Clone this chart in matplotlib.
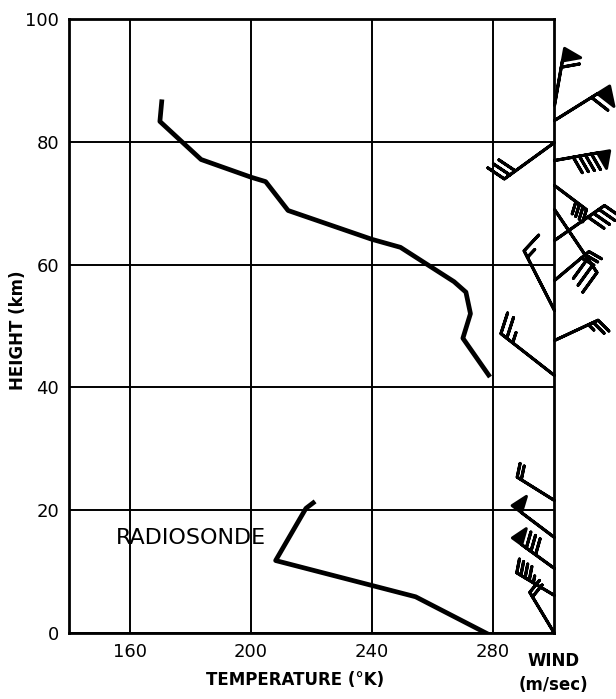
import numpy as np
import matplotlib
matplotlib.use("Agg")
import matplotlib.pyplot as plt

# rocket temperature profile, upper atmosphere
rocket_temp = [170.6, 170.0, 183.6, 200.2, 204.9, 212.3, 240.0, 249.4,
               267.1, 271.0, 272.5, 270.0, 278.5]
rocket_height = [86.5, 83.3, 77.1, 74.2, 73.5, 68.8, 64.1, 62.8,
                 57.2, 55.5, 52.0, 48.0, 42.0]

# radiosonde profile
sonde_temp = [220.6, 218.2, 208.2, 254.4, 277.6]
sonde_height = [21.2, 20.3, 11.8, 5.9, 0.0]

# winds: height (km), staff direction (deg ccw from east), speed (m/sec)
wind_height = [86, 83.5, 80, 77, 73, 69, 64, 57.5, 52.6, 47.7, 42,
               21.7, 15.6, 10.6, 6.2, 0]
wind_dir = [80, 32, 216, 10, -37, -56, 35, 40, 117, 25, 142,
            148, 143, 144, 149, 121]
wind_speed = [60, 60, 30, 90, 40, 30, 40, 30, 15, 25, 25,
              20, 50, 80, 45, 20]

temp_ticks = [160, 200, 240, 280]
height_ticks = [0, 20, 40, 60, 80, 100]

# staff length of each barb in pixels
barb_px = [58, 65, 62, 56, 40, 76, 61, 45, 67, 48, 68, 44, 53, 52, 44, 48]

DPI = 100
fig = plt.figure(figsize=(6.16, 6.99), dpi=DPI)
ax = fig.add_axes([0.112, 0.0944, 0.787, 0.8786])

ax.set_xlim(140, 300)
ax.set_ylim(0, 100)
ax.set_xticks(temp_ticks)
ax.set_yticks(height_ticks)
ax.tick_params(length=0, labelsize=13, pad=7)
ax.grid(True, color='k', lw=1.4)
ax.set_axisbelow(True)
for sp in ax.spines.values():
    sp.set_linewidth(2.0)

ax.plot(rocket_temp, rocket_height, color='k', lw=3.4, solid_joinstyle='round')
ax.plot(sonde_temp, sonde_height, color='k', lw=3.4, solid_joinstyle='round')
ax.text(180.2, 15.5, "RADIOSONDE", fontsize=16, ha='center', va='center')

# wind barbs hung off the right-hand edge
for h, d, s, px in zip(wind_height, wind_dir, wind_speed, barb_px):
    rad = np.deg2rad(d)
    u = -s * np.cos(rad)
    v = -s * np.sin(rad)
    ax.barbs([300], [h], [u], [v], length=np.sqrt(1.44 * px),
             sizes=dict(spacing=0.11, height=0.3, width=0.22),
             color='k', lw=2.2, clip_on=False, zorder=5)

ax.set_xlabel("TEMPERATURE (°K)", fontsize=12, fontweight='bold')
ax.xaxis.set_label_coords(0.466, -0.062)
ax.set_ylabel("HEIGHT (km)", fontsize=12, fontweight='bold')
ax.yaxis.set_label_coords(-0.086, 0.493)

ax.text(300, -4.5, "WIND", fontsize=12, fontweight='bold', ha='center', va='center')
ax.text(300, -8.4, "(m/sec)", fontsize=12, fontweight='bold', ha='center', va='center')

fig.savefig("out.png", dpi=DPI)
